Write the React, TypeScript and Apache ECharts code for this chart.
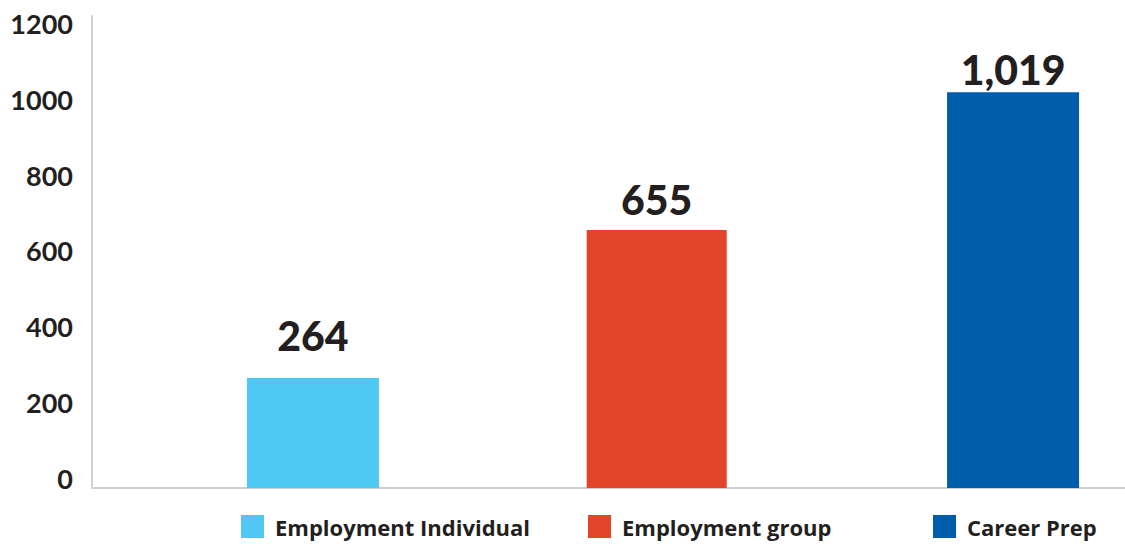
import React, { useEffect, useRef } from "react";
import * as echarts from "echarts";

const seriesNames = ["Employment Individual", "Employment group", "Career Prep"];
const seriesValues = [264, 655, 1019];
const seriesColors = ["#4FC9F4", "#E34529", "#005DAC"];
const yTickLabels = [0, 200, 400, 600, 800, 1000, 1200];
// the bars in the original run a little below the "0" line, down to the axis
const axisFloor = -26.4;
const axisCeil = 1220.3;

const barWidths = [132, 140, 132];
const labelDistances = [22, 10, 2];
const legendLefts = [241, 588, 933];

const FONT = "Lato, 'Open Sans', sans-serif";
const LEGEND_FONT = "'Open Sans', Lato, sans-serif";
const TEXT = "#231F20";

export default function App() {
  const ref = useRef<HTMLDivElement>(null);
  useEffect(() => {
    if (!ref.current) return;
    const chart = echarts.init(ref.current, undefined, { renderer: "svg" });
    const mainSeries = seriesNames.map((n, i) => ({
      name: n,
      type: "bar",
      stack: "s" + i,
      barWidth: barWidths[i],
      barGap: "157.4%",
      data: [seriesValues[i]],
      itemStyle: { color: seriesColors[i] },
      label: {
        show: true,
        position: "top",
        distance: labelDistances[i],
        color: TEXT,
        fontFamily: FONT,
        fontWeight: 900,
        fontSize: 41,
        formatter: (p: any) => Number(p.value).toLocaleString("en-US"),
      },
    }));
    const baseSeries = seriesNames.map((n, i) => ({
      name: n + " base",
      type: "bar",
      stack: "s" + i,
      barWidth: barWidths[i],
      barGap: "157.4%",
      data: [axisFloor],
      itemStyle: { color: seriesColors[i] },
      label: { show: false },
      silent: true,
    }));
    chart.setOption({
      animation: false,
      backgroundColor: "#ffffff",
      grid: { left: 92, right: -109, top: 16, bottom: 56, outerBoundsMode: "none", containLabel: false },
      xAxis: {
        type: "category",
        data: [""],
        axisLine: { show: true, onZero: false, lineStyle: { color: "#D0D0D0", width: 2 } },
        axisTick: { show: false },
        axisLabel: { show: false },
        splitLine: { show: false },
      },
      yAxis: {
        type: "value",
        min: axisFloor,
        max: axisCeil,
        axisLine: { show: true, lineStyle: { color: "#D0D0D0", width: 2 } },
        axisTick: { show: false },
        splitLine: { show: false },
        axisLabel: {
          customValues: yTickLabels,
          formatter: (v: number) => String(v),
          margin: 19,
          color: TEXT,
          fontFamily: FONT,
          fontWeight: "bold",
          fontSize: 27,
        },
      },
      legend: seriesNames.map((n, i) => ({
        data: [n],
        left: legendLefts[i],
        top: 515,
        padding: 0,
        itemWidth: 23,
        itemHeight: 23,
        icon: "rect",
        formatter: (name: string) => "{t|" + name + "}",
        textStyle: {
          color: TEXT,
          fontFamily: LEGEND_FONT,
          fontWeight: "bold",
          fontSize: 22,
          rich: { t: { color: TEXT, fontFamily: LEGEND_FONT, fontWeight: "bold", fontSize: 22, padding: [0, 0, 0, 6] } },
        },
      })),
      series: [...baseSeries, ...mainSeries],
    });
    return () => chart.dispose();
  }, []);
  return (
    <div
      ref={ref}
      style={{ position: "fixed", left: 0, top: 0, width: 1125, height: 544, background: "#ffffff" }}
    />
  );
}
